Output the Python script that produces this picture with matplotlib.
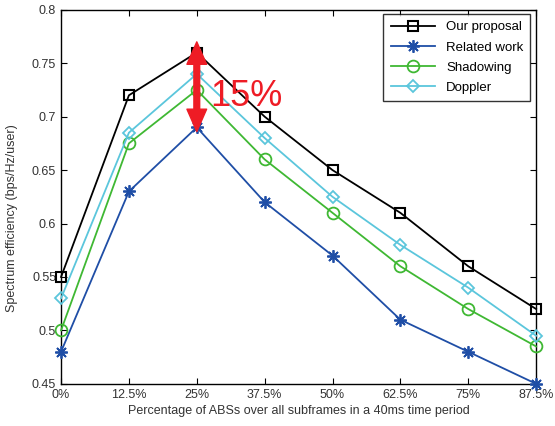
import matplotlib
matplotlib.use("Agg")
import matplotlib.pyplot as plt

plt.rcParams['font.family'] = ['Liberation Sans', 'DejaVu Sans']

categories = ["0%", "12.5%", "25%", "37.5%", "50%", "62.5%", "75%", "87.5%"]
our_proposal = [0.55, 0.72, 0.76, 0.70, 0.65, 0.61, 0.56, 0.52]
related_work = [0.48, 0.63, 0.69, 0.62, 0.57, 0.51, 0.48, 0.45]
shadowing = [0.50, 0.675, 0.725, 0.66, 0.61, 0.56, 0.52, 0.485]
doppler = [0.53, 0.685, 0.74, 0.68, 0.625, 0.58, 0.54, 0.495]
yticks = [0.45, 0.5, 0.55, 0.6, 0.65, 0.7, 0.75, 0.8]
ytick_labels = ["0.45", "0.5", "0.55", "0.6", "0.65", "0.7", "0.75", "0.8"]

fig = plt.figure(figsize=(5.55, 4.26), dpi=100)
ax = fig.add_axes([0.110, 0.099, 0.856, 0.878])
x = list(range(len(categories)))

common = dict(markerfacecolor="none", linewidth=1.3, clip_on=False, zorder=3)
ax.plot(x, our_proposal, color="black", marker="s", markersize=7.5,
        markeredgewidth=1.5, label="Our proposal", **common)
ax.plot(x, related_work, color="#1f4ea6", marker=(8, 2, 0), markersize=9,
        markeredgewidth=1.3, label="Related work", **common)
ax.plot(x, shadowing, color="#3fb833", marker="o", markersize=8.5,
        markeredgewidth=1.3, label="Shadowing", **common)
ax.plot(x, doppler, color="#5bc6dc", marker="D", markersize=6.5,
        markeredgewidth=1.3, label="Doppler", **common)

# double-headed red arrow between the two series at the peak
peak = 2
top_end = our_proposal[peak] + 0.010
bot_end = related_work[peak] - 0.004
mid = (top_end + bot_end) / 2
arrow_kw = dict(width=0.085, head_width=0.29, head_length=0.021,
                length_includes_head=True, color="#ee1c25", linewidth=1,
                joinstyle="round", zorder=5)
ax.arrow(peak, mid, 0, top_end - mid, **arrow_kw)
ax.arrow(peak, mid, 0, bot_end - mid, **arrow_kw)
ax.text(2.2, 0.719, "15%", color="#ee1c25", fontsize=26, va="center", ha="left", zorder=5)

ax.set_xlim(0, 7)
ax.set_ylim(0.45, 0.8)
ax.set_xticks(x)
ax.set_xticklabels(categories)
ax.set_yticks(yticks)
ax.set_yticklabels(ytick_labels)
ax.tick_params(direction="in", top=True, right=True, labelsize=9, labelcolor="#333333",
               length=4)
for s in ax.spines.values():
    s.set_linewidth(1.0)
ax.set_xlabel("Percentage of ABSs over all subframes in a 40ms time period", fontsize=9,
              color="#333333", labelpad=3)
ax.set_ylabel("Spectrum efficiency (bps/Hz/user)", fontsize=9, color="#333333")
ax.yaxis.set_label_coords(-0.090, 0.444)

leg = ax.legend(loc="upper right", fontsize=9.5, frameon=True, fancybox=False,
                edgecolor="black", handlelength=3.4, borderpad=0.55, labelspacing=0.6,
                borderaxespad=0, bbox_to_anchor=(0.988, 0.989))
leg.get_frame().set_linewidth(1.0)

fig.savefig("out.png", dpi=100)
